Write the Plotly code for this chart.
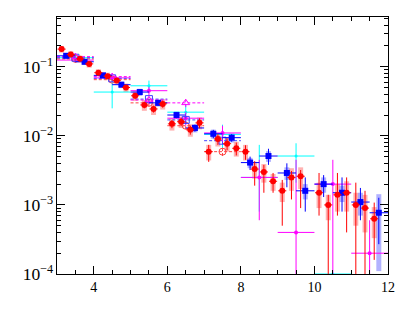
import plotly.graph_objects as go

# red filled circles (bins of 0.25)
red_x = [3.125, 3.375, 3.625, 3.875, 4.125, 4.375, 4.625, 4.875, 5.125, 5.375, 5.625, 5.875,
         6.125, 6.375, 6.625, 6.875, 7.125, 7.375, 7.625, 7.875, 8.125, 8.375, 8.625, 8.875,
         9.125, 9.375, 9.625, 10.125, 10.375, 10.625, 10.875, 11.125, 11.375, 11.625]
red_y = [0.18, 0.15, 0.13, 0.11, 0.082, 0.073, 0.063, 0.050, 0.038, 0.028, 0.0245, 0.029,
         0.0149, 0.016, 0.0122, 0.0154, 0.0059, 0.0090, 0.0077, 0.0066, 0.0059, 0.0033, 0.0030, 0.0022,
         0.0016, 0.0025, 0.0026, 0.0015, 0.0010, 0.0014, 0.0015, 0.0010, 0.0009, 0.00063]
red_hw = [0.11] * len(red_x)
red_err = [0.014, 0.012, 0.010, 0.009, 0.007, 0.006, 0.005, 0.004, 0.0035, 0.003, 0.0028, 0.0035,
           0.002, 0.0022, 0.0018, 0.0025, 0.0015, 0.0016, 0.0015, 0.0014, 0.0014, 0.0010, 0.0008, 0.0007,
           0.0007, 0.0006, 0.0006, 0.0014, 0.0004, 0.0015, 0.0010, 0.0011, 0.0007, 0.00045]
red_errm = [0.014, 0.012, 0.010, 0.009, 0.007, 0.006, 0.005, 0.004, 0.0035, 0.003, 0.0028, 0.0035,
            0.002, 0.0022, 0.0018, 0.0025, 0.0017, 0.0016, 0.0015, 0.0014, 0.0014, 0.0014, 0.0015, 0.0007,
            0.0011, 0.0013, 0.0017, 0.0008, 0.0009, 0.0007, 0.0011, 0.0010, 0.0009, 0.00047]
red_sys = [0.02, 0.018, 0.015, 0.013, 0.010, 0.009, 0.008, 0.007, 0.006, 0.005, 0.0045, 0.005,
           0.003, 0.003, 0.0025, 0.003, 0.0015, 0.002, 0.0018, 0.0016, 0.0015, 0.0009, 0.0009, 0.0006,
           0.0005, 0.0009, 0.0009, 0.0006, 0.0004, 0.0006, 0.0007, 0.0005, 0.0005, 0.0003]

# blue filled squares (bins of 0.5)
blue_x = [3.25, 3.75, 4.25, 4.75, 5.25, 5.75, 6.25, 6.75, 7.25, 7.75, 8.25, 8.75, 9.25,
          9.75, 10.25, 10.75, 11.25, 11.75]
blue_y = [0.144, 0.118, 0.075, 0.055, 0.043, 0.030, 0.020, 0.013, 0.0107, 0.0094, 0.0041, 0.0051,
          0.0029, 0.0016, 0.0020, 0.0015, 0.0011, 0.00077]
blue_hw = [0.25] * len(blue_x)
blue_err = [0.008, 0.007, 0.005, 0.004, 0.003, 0.0025, 0.002, 0.0015, 0.0015, 0.0012, 0.0009, 0.0014,
            0.0011, 0.0009, 0.0007, 0.0010, 0.00066, 0.0005]
blue_errm = [0.008, 0.007, 0.005, 0.004, 0.003, 0.0025, 0.002, 0.0015, 0.0015, 0.0012, 0.0009, 0.0013,
             0.0011, 0.0008, 0.0007, 0.0007, 0.0005, 0.0005]
blue_sys = [0.014, 0.012, 0.008, 0.006, 0.005, 0.0035, 0.0025, 0.0018, 0.0016, 0.0014, 0.0007, 0.0009,
            0.0006, 0.0004, 0.0005, 0.0004, 0.0004, 0.00066]

# magenta small filled points (bins of 1)
mag_x = [3.5, 4.5, 5.5, 6.5, 7.5, 8.5, 9.5, 10.5, 11.5]
mag_y = [0.125, 0.069, 0.045, 0.018, 0.011, 0.0025, 0.0004, 0.0020, 0.0002]
mag_hw = [0.5] * len(mag_x)
mag_err = [0.010, 0.006, 0.006, 0.004, 0.003, 0.002, 0.0041, 0.0025, 0.0004]
mag_errm = [0.010, 0.006, 0.006, 0.004, 0.003, 0.0019, 0.0004, 0.0020, 0.0002]

# cyan small filled points
cyan_x = [3.5, 4.5, 5.5, 6.5, 7.5, 8.5, 9.5, 10.5]
cyan_y = [0.135, 0.043, 0.053, 0.022, 0.0105, 0.0025, 0.0051, 0.0001]
cyan_hw = [0.5, 0.5, 0.5, 0.5, 0.5, 0.5, 0.5, 0.5]
cyan_err = [0.02, 0.022, 0.010, 0.007, 0.004, 0.0049, 0.0027, 0.0]
cyan_errm = [0.02, 0.018, 0.010, 0.007, 0.004, 0.0017, 0.0030, 0.0]

# open markers with dashed error bars (bins of 1)
mopen_x = [3.5, 4.5, 5.5, 6.5]
mopen_y = [0.14, 0.072, 0.033, 0.030]
mopen_err = [0.012, 0.006, 0.004, 0.004]
bopen_x = [3.5, 4.5, 5.5, 6.5, 7.5]
bopen_y = [0.135, 0.068, 0.034, 0.017, 0.0085]
bopen_err = [0.01, 0.005, 0.003, 0.002, 0.001]
ropen_x = [3.5, 4.5, 5.5, 6.5, 7.5]
ropen_y = [0.13, 0.065, 0.030, 0.014, 0.0059]
ropen_err = [0.01, 0.005, 0.003, 0.0015, 0.0008]
open_hw = 0.5

fig = go.Figure()


def sys_trace(x, y, s, col):
    fig.add_trace(go.Scatter(
        x=x, y=y, mode='markers', marker=dict(size=1, color='rgba(0,0,0,0)'),
        error_y=dict(type='data', array=s, color=col, thickness=5, width=0),
        hoverinfo='skip'))


def data_trace(x, y, hw, e, em, col, sym, size):
    fig.add_trace(go.Scatter(
        x=x, y=y, mode='markers',
        marker=dict(symbol=sym, size=size, color=col, line=dict(width=0)),
        error_x=dict(type='data', array=hw, color=col, thickness=1, width=0),
        error_y=dict(type='data', array=e, arrayminus=em, color=col, thickness=1, width=0)))


def dashed_trace(x, y, e, col, sym):
    xs, ys = [], []
    for xi, yi, ei in zip(x, y, e):
        xs += [xi - open_hw, xi + open_hw, None, xi, xi, None]
        ys += [yi, yi, None, yi - ei, yi + ei, None]
    fig.add_trace(go.Scatter(x=xs, y=ys, mode='lines',
                             line=dict(color=col, width=1, dash='3px,2px'), hoverinfo='skip'))
    fig.add_trace(go.Scatter(x=x, y=y, mode='markers',
                             marker=dict(symbol=sym, size=7, color=col, line=dict(width=1, color=col))))


sys_trace(red_x, red_y, red_sys, 'rgba(255,0,0,0.3)')
sys_trace(blue_x, blue_y, blue_sys, 'rgba(0,0,255,0.3)')
data_trace(cyan_x, cyan_y, cyan_hw, cyan_err, cyan_errm, '#00ffff', 'circle', 3)
data_trace(mag_x, mag_y, mag_hw, mag_err, mag_errm, '#ff00ff', 'circle', 4)
dashed_trace(ropen_x, ropen_y, ropen_err, '#ff4040', 'circle-open')
dashed_trace(bopen_x, bopen_y, bopen_err, '#4040ff', 'square-open')
dashed_trace(mopen_x, mopen_y, mopen_err, '#ff00ff', 'triangle-up-open')
data_trace(blue_x, blue_y, blue_hw, blue_err, blue_errm, '#0000ff', 'square', 6)
data_trace(red_x, red_y, red_hw, red_err, red_errm, '#ff0000', 'circle', 6)

axis_common = dict(showline=True, linecolor='black', linewidth=1, mirror='allticks',
                   ticks='inside', ticklen=8, tickcolor='black', showgrid=False,
                   zeroline=False, automargin=False)

# the page body adds an 8px offset, so the margins are shifted to compensate
fig.update_layout(
    width=409, height=327,
    margin=dict(l=49, r=29, t=9, b=61),
    plot_bgcolor='white', paper_bgcolor='white',
    showlegend=False,
    font=dict(family='Liberation Serif', size=14, color='black'),
    xaxis=dict(range=[3, 12], tick0=0, dtick=2,
               minor=dict(ticks='inside', ticklen=4, dtick=0.5, tickcolor='black'),
               **axis_common),
    yaxis=dict(type='log', range=[-4, -0.28], dtick=1, exponentformat='power',
               minor=dict(ticks='inside', ticklen=4, dtick='D1', tickcolor='black'),
               **axis_common),
)

fig.write_html("out.html")
